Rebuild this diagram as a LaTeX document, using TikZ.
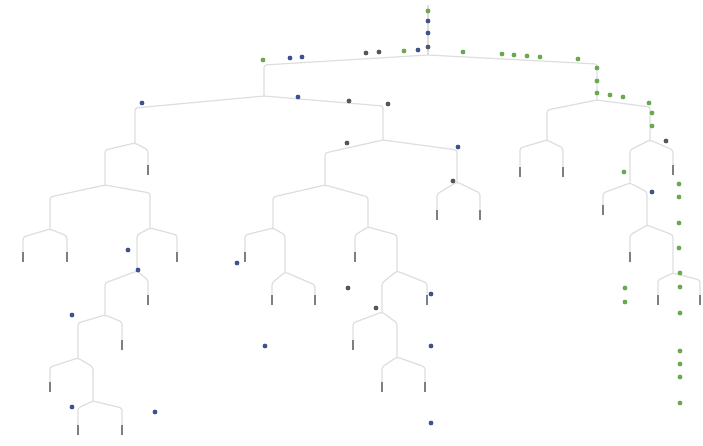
\documentclass[tikz,border=0pt]{standalone}
\definecolor{linec}{HTML}{DEDEDE}
\definecolor{leafc}{HTML}{7A8085}
\definecolor{dblue}{HTML}{3E5290}
\definecolor{dgreen}{HTML}{6CA850}
\definecolor{dgray}{HTML}{4E585F}
\tikzset{
  branch/.style={draw=linec, line width=1.2pt, line join=round, rounded corners=2.5pt},
  leafmark/.style={draw=leafc, line width=2pt},
  bdot/.style={fill=dblue},
  gdot/.style={fill=dgreen},
  kdot/.style={fill=dgray}
}
\newcommand{\tbr}[8]{\draw[branch] (#3,#7) -- (#3,#4) -- (#1,#2) -- (#5,#6) -- (#5,#8);}
\newcommand{\tlf}[2]{\draw[leafmark] (#1,{#2-10}) -- (#1,#2);}
\newcommand{\tdot}[3]{\fill[#1] (#2,#3) circle (2.4pt);}
\begin{document}
\begin{tikzpicture}[x=1pt,y=-1pt]
\useasboundingbox[fill=white] (0,0) rectangle (703,445);
% root stem
\draw[branch] (428,5) -- (428,55);
% brackets: px,py, lx,ley, rx,rey, lbot,rbot
\tbr{428}{55}{264}{65}{597}{64}{96}{100}
\tbr{264}{96}{135}{108}{383}{106}{143}{140}
\tbr{135}{143}{105}{150}{148}{150}{185}{175}
\tbr{105}{185}{50}{197}{150}{193}{229}{228}
\tbr{50}{229}{23}{237}{67}{236}{262}{262}
\tbr{150}{228}{137}{235}{177}{235}{271}{262}
\tbr{137}{271}{105}{283}{148}{280}{315}{305}
\tbr{105}{315}{78}{323}{122}{322}{358}{350}
\tbr{78}{358}{50}{367}{93}{367}{392}{401}
\tbr{93}{401}{78}{408}{122}{408}{435}{435}
\tbr{383}{140}{325}{153}{457}{150}{185}{182}
\tbr{325}{185}{273}{197}{368}{197}{228}{227}
\tbr{273}{228}{245}{235}{285}{235}{262}{272}
\tbr{285}{272}{272}{283}{315}{285}{305}{305}
\tbr{368}{227}{355}{235}{397}{235}{262}{271}
\tbr{397}{271}{382}{283}{427}{283}{312}{305}
\tbr{382}{312}{353}{323}{397}{323}{350}{357}
\tbr{397}{357}{382}{367}{425}{367}{392}{392}
\tbr{457}{182}{437}{194}{480}{193}{220}{220}
\tbr{597}{100}{547}{110}{650}{107}{140}{140}
\tbr{547}{140}{520}{148}{563}{148}{177}{177}
\tbr{650}{140}{630}{150}{673}{150}{183}{175}
\tbr{630}{183}{603}{193}{647}{192}{215}{225}
\tbr{647}{225}{630}{235}{673}{235}{262}{273}
\tbr{673}{273}{658}{280}{700}{280}{305}{305}
% leaf marks
\tlf{148}{175}
\tlf{23}{262}\tlf{67}{262}\tlf{177}{262}
\tlf{148}{305}\tlf{122}{350}\tlf{50}{392}
\tlf{78}{435}\tlf{122}{435}
\tlf{245}{262}\tlf{272}{305}\tlf{315}{305}
\tlf{355}{262}\tlf{427}{305}\tlf{353}{350}
\tlf{382}{392}\tlf{425}{392}
\tlf{437}{220}\tlf{480}{220}
\tlf{520}{177}\tlf{563}{177}\tlf{673}{175}
\tlf{603}{215}\tlf{630}{262}\tlf{658}{305}\tlf{700}{305}
% green dots
\tdot{gdot}{428}{11}\tdot{gdot}{404}{51}\tdot{gdot}{463}{52}
\tdot{gdot}{502}{54}\tdot{gdot}{514}{55}\tdot{gdot}{527}{56}\tdot{gdot}{540}{57}
\tdot{gdot}{578}{59}\tdot{gdot}{597}{68}\tdot{gdot}{597}{81}\tdot{gdot}{597}{93}
\tdot{gdot}{610}{95}\tdot{gdot}{623}{97}\tdot{gdot}{649}{103}\tdot{gdot}{652}{113}
\tdot{gdot}{652}{126}\tdot{gdot}{679}{184}\tdot{gdot}{679}{197}\tdot{gdot}{679}{223}
\tdot{gdot}{679}{248}\tdot{gdot}{680}{273}\tdot{gdot}{680}{287}\tdot{gdot}{680}{313}
\tdot{gdot}{625}{288}\tdot{gdot}{625}{302}\tdot{gdot}{680}{351}\tdot{gdot}{680}{364}
\tdot{gdot}{680}{377}\tdot{gdot}{680}{403}\tdot{gdot}{624}{172}\tdot{gdot}{263}{60}
% blue dots
\tdot{bdot}{428}{21}\tdot{bdot}{428}{33}\tdot{bdot}{418}{50}\tdot{bdot}{302}{57}
\tdot{bdot}{290}{58}\tdot{bdot}{142}{103}\tdot{bdot}{298}{97}\tdot{bdot}{458}{147}
\tdot{bdot}{652}{192}\tdot{bdot}{128}{250}\tdot{bdot}{138}{270}\tdot{bdot}{237}{263}
\tdot{bdot}{72}{315}\tdot{bdot}{72}{407}\tdot{bdot}{155}{412}\tdot{bdot}{265}{346}
\tdot{bdot}{431}{294}\tdot{bdot}{431}{346}\tdot{bdot}{431}{423}
% dark dots
\tdot{kdot}{428}{47}\tdot{kdot}{379}{52}\tdot{kdot}{366}{53}\tdot{kdot}{349}{101}
\tdot{kdot}{388}{104}\tdot{kdot}{347}{143}\tdot{kdot}{453}{181}\tdot{kdot}{376}{308}
\tdot{kdot}{348}{288}\tdot{kdot}{666}{141}
\end{tikzpicture}
\end{document}
